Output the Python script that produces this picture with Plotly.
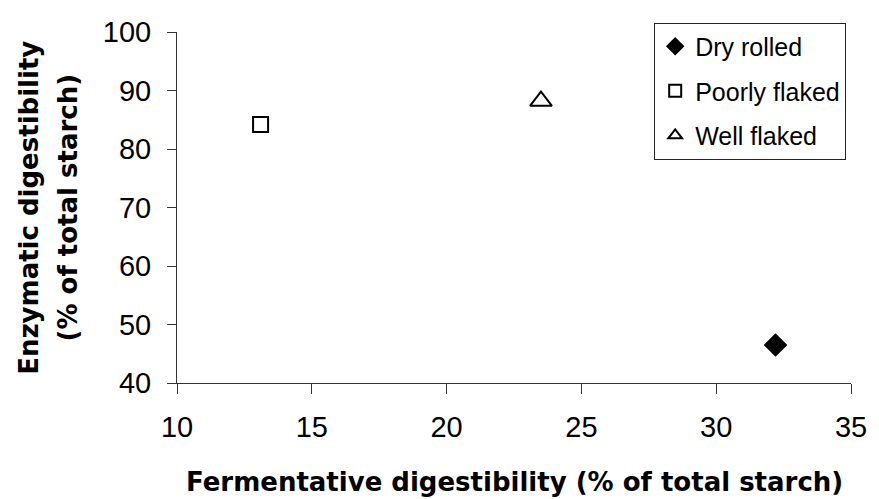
import plotly.graph_objects as go

# Data
series_names = ["Dry rolled", "Poorly flaked", "Well flaked"]
fermentative = [32.2, 13.1, 23.5]   # x: % of total starch
enzymatic = [46.5, 84.2, 88.2]      # y: % of total starch

x_ticks = [10, 15, 20, 25, 30, 35]
y_ticks = [40, 50, 60, 70, 80, 90, 100]

symbols = ["diamond", "square", "triangle-up"]
fills = ["black", "white", "white"]
sizes = [16, 15, 19]

fig = go.Figure()
for i, name in enumerate(series_names):
    fig.add_trace(go.Scatter(
        x=[fermentative[i]], y=[enzymatic[i]],
        mode="markers", name=name, legendgroup=name,
        marker=dict(symbol=symbols[i], size=sizes[i], color=fills[i],
                    line=dict(color="black", width=2)),
    ))

tick_font = dict(family="Liberation Sans, Arial, sans-serif", size=29, color="black")
title_font = dict(family="DejaVu Sans, sans-serif", size=26, color="black", weight="bold")

fig.update_layout(
    width=879, height=499,
    margin=dict(l=177, r=22, t=32, b=116),
    paper_bgcolor="white", plot_bgcolor="white",
    showlegend=True,
    legend=dict(
        x=0.708, y=1.027, xanchor="left", yanchor="top",
        bgcolor="white", bordercolor="#222", borderwidth=1,
        font=dict(family="Liberation Sans, Arial, sans-serif", size=25, color="black"),
        itemsizing="constant", tracegroupgap=9,
    ),
    xaxis=dict(
        range=[10, 35], tickvals=x_ticks, ticktext=[str(v) for v in x_ticks],
        showgrid=False, zeroline=False, showline=True, linecolor="#333", linewidth=1,
        ticks="outside", ticklen=10, tickcolor="#333", tickwidth=1,
        tickfont=tick_font, ticklabelstandoff=8,
    ),
    yaxis=dict(
        range=[40, 100], tickvals=y_ticks, ticktext=[str(v) for v in y_ticks],
        showgrid=False, zeroline=False, showline=True, linecolor="#333", linewidth=1,
        ticks="outside", ticklen=9, tickcolor="#333", tickwidth=1,
        tickfont=tick_font, ticklabelstandoff=10,
    ),
    annotations=[
        dict(text="Fermentative digestibility (% of total starch)", xref="paper", yref="paper",
             x=0.5, y=-0.282, xanchor="center", yanchor="middle", showarrow=False, font=title_font),
        dict(text="Enzymatic digestibility", xref="paper", yref="paper",
             x=-0.2206, y=0.5, xanchor="center", yanchor="middle", textangle=-90,
             showarrow=False, font=title_font),
        dict(text="(% of total starch)", xref="paper", yref="paper",
             x=-0.1618, y=0.5, xanchor="center", yanchor="middle", textangle=-90,
             showarrow=False, font=title_font),
    ],
)

fig.write_html("out.html")
